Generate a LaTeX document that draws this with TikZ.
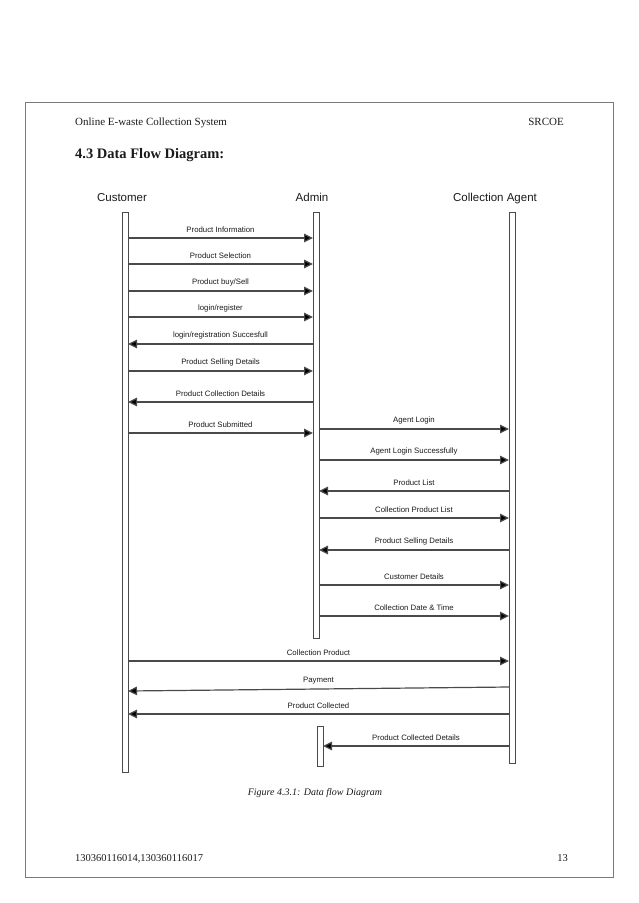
\documentclass[tikz,border=0pt]{standalone}
\usepackage{fontspec}
\setmainfont{Liberation Serif}
\newfontfamily\arialf{Liberation Sans}
\usetikzlibrary{arrows.meta}
\definecolor{linec}{HTML}{4A4A4A}
\definecolor{bordc}{HTML}{7A7A7A}
\definecolor{txt}{HTML}{1A1A1A}
\begin{document}
\begin{tikzpicture}[x=1pt,y=-1pt,
  life/.style={draw=linec, fill=white, line width=1pt, inner sep=0pt, outer sep=0pt, minimum width=6pt},
  msg/.style={draw=linec, line width=1.2pt, -{Triangle[length=9pt,width=8.5pt,fill=black]}},
  lbl/.style={font=\arialf\fontsize{7.8}{9}\selectfont, text=txt, above=4pt, inner sep=0.5pt},
  actor/.style={font=\arialf\fontsize{11.5}{13}\selectfont, text=txt, anchor=base, inner sep=0pt},
  pagetxt/.style={font=\fontsize{11}{13}\selectfont, text=txt, inner sep=0pt},
]
\useasboundingbox (0,0) rectangle (638,903);
\node[draw=bordc, line width=1pt, minimum width=588pt, minimum height=775pt, inner sep=0pt, anchor=north west] (page) at (25,102) {};

\node[pagetxt, anchor=base west] (hdl) at (75,125) {Online E-waste Collection System};
\node[pagetxt, anchor=base east] (hdr) at (564,125) {SRCOE};
\node[font=\bfseries\fontsize{14.5}{17}\selectfont, text=txt, anchor=base west, inner sep=0pt] (title) at (75,158) {4.3 Data Flow Diagram:};

\node[actor] (custl) at (122,201) {Customer};
\node[actor] (adml) at (312,201) {Admin};
\node[actor] (agtl) at (495,201) {Collection Agent};

\node[life, minimum height=560pt] (cust) at (125,492) {};
\node[life, minimum height=426pt] (adm) at (316,425) {};
\node[life, minimum height=551pt] (agt) at (512,487.5) {};
\node[life, minimum height=40pt] (act) at (320,746) {};

% Customer <-> Admin
\draw[msg] (cust.east |- 0,238) -- node[lbl]{Product Information} (adm.west |- 0,238);
\draw[msg] (cust.east |- 0,264) -- node[lbl]{Product Selection} (adm.west |- 0,264);
\draw[msg] (cust.east |- 0,291) -- node[lbl]{Product buy/Sell} (adm.west |- 0,291);
\draw[msg] (cust.east |- 0,317) -- node[lbl]{login/register} (adm.west |- 0,317);
\draw[msg] (adm.west |- 0,344) -- node[lbl]{login/registration Succesfull} (cust.east |- 0,344);
\draw[msg] (cust.east |- 0,371) -- node[lbl]{Product Selling Details} (adm.west |- 0,371);
\draw[msg] (adm.west |- 0,402) -- node[lbl]{Product Collection Details} (cust.east |- 0,402);
\draw[msg] (cust.east |- 0,433) -- node[lbl]{Product Submitted} (adm.west |- 0,433);

% Admin <-> Agent
\draw[msg] (adm.east |- 0,429) -- node[lbl]{Agent Login} (agt.west |- 0,429);
\draw[msg] (adm.east |- 0,460) -- node[lbl]{Agent Login Successfully} (agt.west |- 0,460);
\draw[msg] (agt.west |- 0,491) -- node[lbl]{Product List} (adm.east |- 0,491);
\draw[msg] (adm.east |- 0,518) -- node[lbl]{Collection Product List} (agt.west |- 0,518);
\draw[msg] (agt.west |- 0,550) -- node[lbl]{Product Selling Details} (adm.east |- 0,550);
\draw[msg] (adm.east |- 0,585) -- node[lbl]{Customer Details} (agt.west |- 0,585);
\draw[msg] (adm.east |- 0,616) -- node[lbl]{Collection Date \& Time} (agt.west |- 0,616);

% Customer <-> Agent
\draw[msg] (cust.east |- 0,661) -- node[lbl]{Collection Product} (agt.west |- 0,661);
\draw[msg] (agt.west |- 0,687) -- node[lbl]{Payment} (cust.east |- 0,691);
\draw[msg] (agt.west |- 0,714) -- node[lbl]{Product Collected} (cust.east |- 0,714);
\draw[msg] (agt.west |- 0,746) -- node[lbl]{Product Collected Details} (act.east |- 0,746);

\node[font=\itshape\fontsize{10}{12}\selectfont, text=txt, anchor=base, inner sep=0pt] (cap) at (315,795) {Figure 4.3.1: Data flow Diagram};

\node[font=\fontsize{10.5}{12}\selectfont, text=txt, anchor=base west, inner sep=0pt] (ftl) at (75,861) {130360116014,130360116017};
\node[font=\fontsize{10.5}{12}\selectfont, text=txt, anchor=base east, inner sep=0pt] (ftr) at (568,861) {13};
\end{tikzpicture}
\end{document}
